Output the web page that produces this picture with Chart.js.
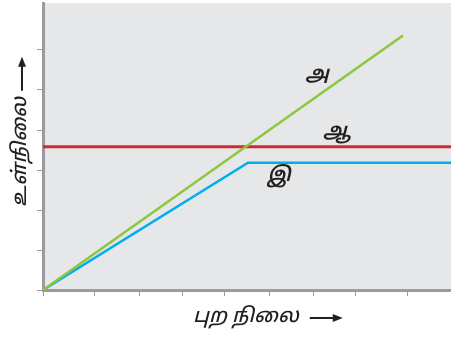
<!DOCTYPE html>
<html>
<head>
<meta charset="utf-8">
<script src="https://cdn.jsdelivr.net/npm/chart.js@4"></script>
<style>
  html, body { margin: 0; padding: 0; background: #fff; }
  #wrap { width: 451px; height: 337px; }
</style>
</head>
<body>
<div id="wrap"><canvas id="chart" width="451" height="337"></canvas></div>
<script>
// series (x = external level, y = internal level)
const lineA = [{ x: 0, y: 0 }, { x: 360, y: 6.36 }];          // green
const lineB = [{ x: 0, y: 3.58 }, { x: 408, y: 3.58 }];       // red
const lineC = [{ x: 0, y: 0 }, { x: 205, y: 3.18 }, { x: 408, y: 3.18 }]; // blue
const seriesNames = ["அ", "ஆ", "இ"];
const xTicks = [0, 51, 96, 139, 181, 226, 270, 312, 364];
const yTicks = [0, 1, 2, 3, 4, 5, 6];
const xTitle = "புற நிலை";
const yTitle = "உள்நிலை";

const tamilFont = "'Noto Sans Tamil', 'Lohit Tamil', 'Latha', sans-serif";

// grey plot background + text labels
const decorPlugin = {
  id: "decor",
  beforeDraw(chart) {
    const { ctx, chartArea: a } = chart;
    ctx.save();
    ctx.fillStyle = "#e6e7e9";
    ctx.fillRect(a.left, a.top, a.right - a.left, a.bottom - a.top);
    ctx.restore();
  },
  afterDraw(chart) {
    const { ctx } = chart;
    const xs = chart.scales.x, ys = chart.scales.y;
    ctx.save();
    ctx.fillStyle = "#231f20";
    ctx.textAlign = "center";
    ctx.textBaseline = "middle";

    // series labels
    ctx.font = "italic 600 20px " + tamilFont;
    const spots = [[274, 5.35], [294, 3.93], [236, 2.83]];
    seriesNames.forEach((s, i) => {
      ctx.fillText(s, xs.getPixelForValue(spots[i][0]), ys.getPixelForValue(spots[i][1]));
    });

    // x title + arrow
    ctx.font = "italic 500 20px " + tamilFont;
    ctx.textAlign = "left";
    const tx = 193, ty = 318;
    ctx.fillText(xTitle, tx, ty);
    const w = ctx.measureText(xTitle).width;
    drawArrow(ctx, tx + w + 11, ty, tx + w + 44, ty);

    // y title + arrow (rotated)
    ctx.translate(22, 207);
    ctx.rotate(-Math.PI / 2);
    ctx.font = "italic 500 20px " + tamilFont;
    ctx.fillText(yTitle, 0, 0);
    const w2 = ctx.measureText(yTitle).width;
    drawArrow(ctx, w2 + 6, 0, w2 + 40, 0);
    ctx.restore();
  }
};

function drawArrow(ctx, x1, y, x2) {
  ctx.strokeStyle = "#231f20";
  ctx.lineWidth = 2;
  ctx.beginPath();
  ctx.moveTo(x1, y);
  ctx.lineTo(x2 - 8, y);
  ctx.stroke();
  ctx.beginPath();
  ctx.moveTo(x2, y);
  ctx.lineTo(x2 - 10, y - 4);
  ctx.lineTo(x2 - 10, y + 4);
  ctx.closePath();
  ctx.fill();
}

new Chart(document.getElementById("chart"), {
  type: "scatter",
  data: {
    datasets: [
      { label: seriesNames[0], data: lineA, showLine: true, borderColor: "#8dc63f", borderWidth: 2.5, pointRadius: 0 },
      { label: seriesNames[1], data: lineB, showLine: true, borderColor: "#d7282f", borderWidth: 3, pointRadius: 0 },
      { label: seriesNames[2], data: lineC, showLine: true, borderColor: "#00aeef", borderWidth: 2.5, pointRadius: 0 },
    ],
  },
  options: {
    responsive: false,
    animation: false,
    layout: { padding: { top: 3, right: 0, left: 0, bottom: 0 } },
    plugins: { legend: { display: false }, tooltip: { enabled: false } },
    scales: {
      x: {
        type: "linear",
        min: 0,
        max: 408,
        afterBuildTicks: (s) => { s.ticks = xTicks.map((v) => ({ value: v })); },
        afterFit: (s) => { s.height = 47; },
        ticks: { display: false },
        grid: { drawOnChartArea: false, drawTicks: true, tickLength: 6, color: "#9a9b9d", lineWidth: 1 },
        border: { color: "#9a9b9d", width: 3 },
      },
      y: {
        type: "linear",
        min: 0,
        max: 7.175,
        afterBuildTicks: (s) => { s.ticks = yTicks.map((v) => ({ value: v })); },
        afterFit: (s) => { s.width = 43; },
        ticks: { display: false },
        grid: { drawOnChartArea: false, drawTicks: true, tickLength: 6, color: "#9a9b9d", lineWidth: 1 },
        border: { color: "#9a9b9d", width: 3 },
      },
    },
  },
  plugins: [decorPlugin],
});
</script>
</body>
</html>
